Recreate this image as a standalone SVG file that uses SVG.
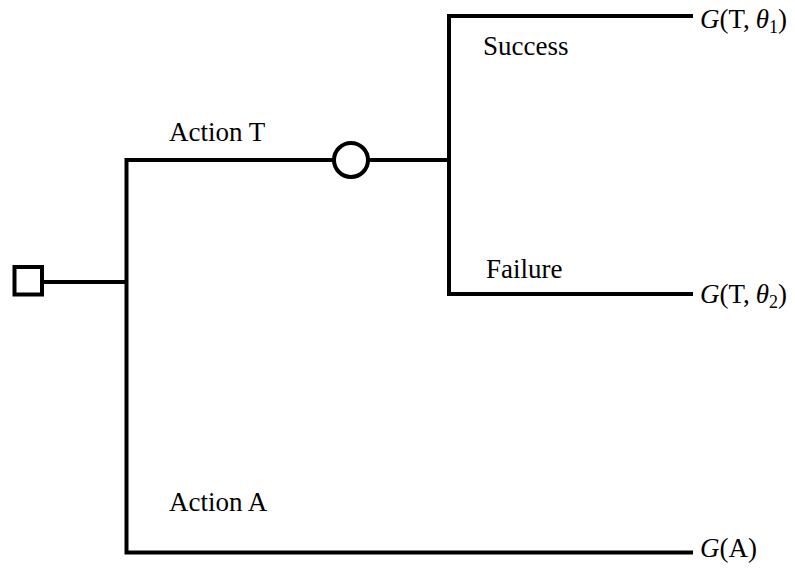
<svg xmlns="http://www.w3.org/2000/svg" width="795" height="571" viewBox="0 0 795 571">
<style>
.ln{stroke:#000;stroke-width:4;fill:none}
.nd{stroke:#000;stroke-width:4;fill:#fff}
text{font-family:"Liberation Serif","Times New Roman",serif;font-size:27px;fill:#000}
.it{font-style:italic}
.sub{font-size:18px}
</style>
<rect width="795" height="571" fill="#fff"/>
<g id="connectors">
<line class="ln" x1="42" y1="282" x2="126.5" y2="282"/>
<polyline class="ln" points="693,552.5 126.5,552.5 126.5,160 333,160"/>
<line class="ln" x1="369" y1="160" x2="449" y2="160"/>
<polyline class="ln" points="693,16 449,16 449,294 693,294"/>
</g>
<g id="decision">
<rect class="nd" x="14.5" y="267" width="27.5" height="27.5"/>
</g>
<g id="chance">
<circle class="nd" cx="351" cy="160" r="17"/>
</g>
<g id="labels">
<text x="169" y="141">Action T</text>
<text x="169" y="511">Action A</text>
<text x="483" y="55">Success</text>
<text x="486" y="278">Failure</text>
</g>
<g id="outcome1">
<text x="700" y="28"><tspan class="it">G</tspan>(T,<tspan class="it" dx="6">θ</tspan><tspan class="sub" dy="5">1</tspan><tspan dy="-5">)</tspan></text>
</g>
<g id="outcome2">
<text x="700" y="303"><tspan class="it">G</tspan>(T,<tspan class="it" dx="6">θ</tspan><tspan class="sub" dy="5">2</tspan><tspan dy="-5">)</tspan></text>
</g>
<g id="outcome3">
<text x="700" y="557"><tspan class="it">G</tspan>(A)</text>
</g>
</svg>
